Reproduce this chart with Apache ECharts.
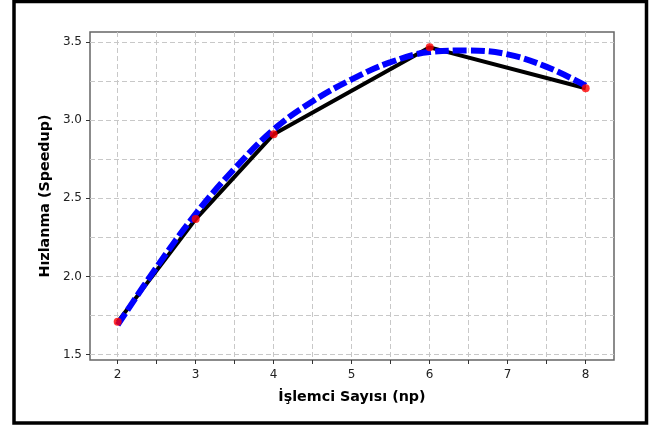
<!DOCTYPE html>
<html>
<head>
<meta charset="utf-8">
<script src="https://cdn.jsdelivr.net/npm/echarts@6/dist/echarts.min.js"></script>
<style>
html,body{margin:0;padding:0;background:#fff;}
#c{width:653px;height:425px;}
</style>
</head>
<body>
<div id="c"></div>
<script>
// measured data points (black line + red markers)
const npValues = [2, 3, 4, 6, 8];
const speedup = [1.71, 2.367, 2.91, 3.465, 3.203];
// blue dashed fitted curve
const fitX = [2, 2.5, 3, 3.5, 4, 4.5, 5, 5.5, 6, 6.5, 7, 7.5, 8];
const fitY = [1.69, 2.06, 2.40, 2.69, 2.94, 3.12, 3.26, 3.37, 3.435, 3.445, 3.42, 3.34, 3.22];
// ticks
const xTicks = [2, 2.5, 3, 3.5, 4, 4.5, 5, 5.5, 6, 6.5, 7, 7.5, 8];
const xLabels = [2, 3, 4, 5, 6, 7, 8];
const yLabels = [1.5, 2.0, 2.5, 3.0, 3.5];
const yGrid = [1.5, 1.75, 2.0, 2.25, 2.5, 2.75, 3.0, 3.25, 3.5];
const xTitle = 'İşlemci Sayısı (np)';
const yTitle = 'Hızlanma (Speedup)';

const FONT = 'DejaVu Sans';
const chart = echarts.init(document.getElementById('c'), null, {renderer: 'canvas'});
const gridLine = {show: true, lineStyle: {color: '#c8c8c8', width: 1, type: [5, 3]}};
const yMin = 1.466, yMax = 3.563;
chart.setOption({
  animation: false,
  backgroundColor: '#fff',
  graphic: [{
    type: 'rect',
    shape: {x: 14, y: 1.5, width: 632.5, height: 421.5},
    style: {fill: 'none', stroke: '#000', lineWidth: 3.5},
    z: 100
  }],
  grid: {left: 90, right: 39, top: 32, bottom: 65, show: true, borderColor: '#666', borderWidth: 1.5, backgroundColor: 'transparent'},
  xAxis: {
    type: 'value', min: 1.645, max: 8.363,
    axisLine: {show: false},
    axisTick: {show: true, length: 4, customValues: xTicks, lineStyle: {color: '#333'}},
    axisLabel: {customValues: xLabels, margin: 9, color: '#222', fontFamily: FONT, fontSize: 12, formatter: v => String(v)},
    splitLine: gridLine,
    name: xTitle, nameLocation: 'middle', nameGap: 30,
    nameTextStyle: {fontFamily: FONT, fontWeight: 'bold', fontSize: 14.3, color: '#000'}
  },
  yAxis: [{
    type: 'value', min: yMin, max: yMax,
    axisLine: {show: false},
    axisTick: {show: true, length: 4, customValues: yLabels, lineStyle: {color: '#333'}},
    axisLabel: {customValues: yLabels, margin: 8, color: '#222', fontFamily: FONT, fontSize: 12, formatter: v => v.toFixed(1)},
    splitLine: {show: false},
    name: yTitle, nameLocation: 'middle', nameGap: 38,
    nameTextStyle: {fontFamily: FONT, fontWeight: 'bold', fontSize: 14.3, color: '#000'}
  }, {
    type: 'value', min: yMin, max: yMax, position: 'left',
    axisLine: {show: false},
    axisTick: {show: false, customValues: yGrid},
    axisLabel: {show: false, customValues: yGrid},
    splitLine: gridLine
  }],
  series: [{
    type: 'line', yAxisIndex: 0,
    data: npValues.map((x, i) => [x, speedup[i]]),
    showSymbol: false, symbol: 'none',
    lineStyle: {color: '#000', width: 4},
    z: 2
  }, {
    type: 'line', yAxisIndex: 0,
    data: fitX.map((x, i) => [x, fitY[i]]),
    smooth: 0.4, symbol: 'none',
    lineStyle: {color: '#0000ff', width: 6, type: [14, 4], cap: 'butt'},
    z: 3
  }, {
    type: 'scatter', yAxisIndex: 0,
    data: npValues.map((x, i) => [x, speedup[i]]),
    symbol: 'circle', symbolSize: 8,
    itemStyle: {color: '#ff0000'},
    z: 4
  }]
});
</script>
</body>
</html>
